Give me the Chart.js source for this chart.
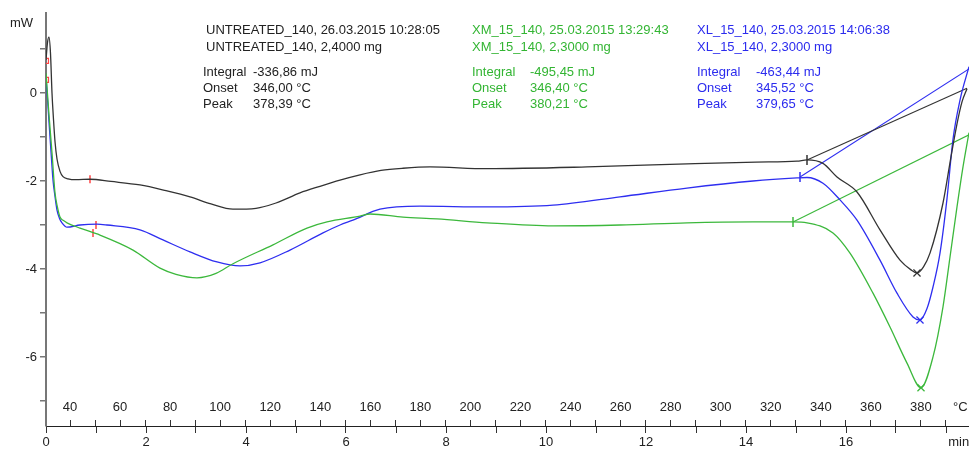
<!DOCTYPE html>
<html>
<head>
<meta charset="utf-8">
<script src="https://cdn.jsdelivr.net/npm/chart.js@4/dist/chart.umd.min.js"></script>
<style>
body{margin:0;background:#fff;}
#wrap{position:relative;width:969px;height:450px;font-family:"Liberation Sans",Arial,sans-serif;font-size:13px;}
.t{position:absolute;white-space:pre;line-height:16px;}
.k{color:#222;}
.g{color:#33b533;}
.b{color:#2b2bee;}
</style>
</head>
<body>
<div id="wrap">
<canvas id="dsc" width="969" height="450"></canvas>
<div class="t k" style="left:10px;top:15px;">mW</div>

<div class="t k" style="left:206px;top:22px;">UNTREATED_140, 26.03.2015 10:28:05</div>
<div class="t k" style="left:206px;top:39px;">UNTREATED_140, 2,4000 mg</div>
<div class="t k" style="left:203px;top:64px;">Integral</div><div class="t k" style="left:253px;top:64px;">-336,86 mJ</div>
<div class="t k" style="left:203px;top:80px;">Onset</div><div class="t k" style="left:253px;top:80px;">346,00 °C</div>
<div class="t k" style="left:203px;top:96px;">Peak</div><div class="t k" style="left:253px;top:96px;">378,39 °C</div>

<div class="t g" style="left:472px;top:22px;">XM_15_140, 25.03.2015 13:29:43</div>
<div class="t g" style="left:472px;top:39px;">XM_15_140, 2,3000 mg</div>
<div class="t g" style="left:472px;top:64px;">Integral</div><div class="t g" style="left:530px;top:64px;">-495,45 mJ</div>
<div class="t g" style="left:472px;top:80px;">Onset</div><div class="t g" style="left:530px;top:80px;">346,40 °C</div>
<div class="t g" style="left:472px;top:96px;">Peak</div><div class="t g" style="left:530px;top:96px;">380,21 °C</div>

<div class="t b" style="left:697px;top:22px;">XL_15_140, 25.03.2015 14:06:38</div>
<div class="t b" style="left:697px;top:39px;">XL_15_140, 2,3000 mg</div>
<div class="t b" style="left:697px;top:64px;">Integral</div><div class="t b" style="left:756px;top:64px;">-463,44 mJ</div>
<div class="t b" style="left:697px;top:80px;">Onset</div><div class="t b" style="left:756px;top:80px;">345,52 °C</div>
<div class="t b" style="left:697px;top:96px;">Peak</div><div class="t b" style="left:756px;top:96px;">379,65 °C</div>
</div>
<script>
// axis ranges / ticks
const timeMin = 0, timeMax = 18.46;
const tempStart = 30.4, heatRate = 19.98; // °C per min
const mwMin = -7.57, mwMax = 1.82;
const timeTicks = [0,1,2,3,4,5,6,7,8,9,10,11,12,13,14,15,16,17,18];
const tempTicks = [40,50,60,70,80,90,100,110,120,130,140,150,160,170,180,190,200,210,220,230,240,250,260,270,280,290,300,310,320,330,340,350,360,370,380,390];
const mwTicks = [1,0,-1,-2,-3,-4,-5,-6,-7];

// UNTREATED_140 (black)
const untreatedT = [0,0.03,0.06,0.09,0.12,0.15,0.18,0.22,0.28,0.34,0.44,0.6,0.88,1.3,1.88,2.4,2.88,3.3,3.74,4.2,4.6,5.08,5.48,5.88,6.28,6.7,7.14,7.68,8.82,10.82,12.82,14.2,15.02,15.22,15.54,15.82,16.22,16.68,17.08,17.3,17.42,17.55,17.68,17.94,18.1,18.22,18.32,18.42];
const untreatedMw = [0.75,1.15,1.27,0.9,0.0,-0.6,-1.1,-1.5,-1.78,-1.9,-1.95,-1.97,-1.96,-2.01,-2.09,-2.22,-2.36,-2.52,-2.64,-2.62,-2.5,-2.27,-2.12,-1.98,-1.86,-1.76,-1.71,-1.68,-1.72,-1.68,-1.61,-1.57,-1.55,-1.52,-1.6,-1.91,-2.25,-3.11,-3.8,-4.02,-4.09,-3.95,-3.64,-2.5,-1.45,-0.7,-0.2,0.1];

// XM_15_140 (green)
const xmT = [0,0.06,0.12,0.18,0.23,0.28,0.35,0.42,0.68,1.08,1.74,2.28,2.6,3.02,3.4,3.74,4.54,5.22,5.62,6.28,6.48,7.14,7.82,8.82,10.14,11.48,12.82,14.14,14.94,15.22,15.74,16.08,16.54,16.88,17.22,17.5,17.74,17.94,18.08,18.22,18.34,18.46];
const xmMw = [0.45,-0.5,-1.36,-2.27,-2.6,-2.82,-2.9,-2.95,-3.07,-3.23,-3.57,-3.98,-4.12,-4.2,-4.1,-3.88,-3.45,-3.07,-2.93,-2.8,-2.75,-2.82,-2.86,-2.95,-3.02,-3.0,-2.95,-2.93,-2.93,-2.95,-3.18,-3.64,-4.55,-5.32,-6.14,-6.7,-6.0,-4.86,-3.73,-2.59,-1.68,-0.9];

// XL_15_140 (blue)
const xlT = [0,0.04,0.08,0.11,0.14,0.18,0.22,0.27,0.32,0.42,0.68,1.02,1.22,1.88,2.34,2.88,3.42,3.88,4.28,4.88,5.54,5.88,6.14,6.68,7.48,8.82,10.14,11.48,12.82,14.14,15.02,15.22,15.54,15.88,16.22,16.68,17.02,17.34,17.48,17.62,17.74,17.88,18.02,18.14,18.28,18.46];
const xlMw = [0.36,-0.3,-1.0,-1.5,-1.98,-2.35,-2.66,-2.85,-2.95,-3.05,-3.0,-2.98,-3.0,-3.11,-3.34,-3.61,-3.84,-3.93,-3.86,-3.57,-3.18,-3.0,-2.89,-2.64,-2.57,-2.59,-2.55,-2.36,-2.16,-2.0,-1.93,-1.92,-2.05,-2.43,-2.89,-3.8,-4.55,-5.09,-5.16,-4.9,-4.41,-3.64,-2.4,-1.05,-0.16,0.6];

// integration baselines [start, end]
const untreatedBaseT = [15.22, 18.42], untreatedBaseMw = [-1.52, 0.11];
const xmBaseT = [14.94, 18.46], xmBaseMw = [-2.93, -0.95];
const xlBaseT = [15.08, 18.46], xlBaseMw = [-1.91, 0.55];

// peaks (black, green, blue)
const peakT = [17.42, 17.5, 17.48];
const peakMw = [-4.09, -6.7, -5.16];

// red range marks: start of curves, and end of the first range
const startMarkT = [0, 0];
const startMarkMw = [0.73, 0.3];
const rangeT = [0.88, 0.94, 1.0];
const rangeMw = [-1.96, -3.18, -3.0];

const BLACK = '#333333', GREEN = '#3cb83c', BLUE = '#2e2ef0', RED = '#ff4444';

function pts(xs, ys){
  return xs.map((x,i)=>({x:x, y:ys[i]}));
}

function curve(label, xs, ys, color){
  return {label:label, data:pts(xs,ys), borderColor:color, borderWidth:1.3,
    pointRadius:0, cubicInterpolationMode:'monotone', fill:false};
}
function straight(label, xs, ys, color){
  return {label:label, data:pts(xs,ys), borderColor:color, borderWidth:1.1,
    pointRadius:[5,0], pointStyle:'line', rotation:90, pointBorderColor:color, pointBorderWidth:1.5, fill:false};
}

new Chart(document.getElementById('dsc'),{
  type:'line',
  data:{
    datasets:[
      curve('UNTREATED_140', untreatedT, untreatedMw, BLACK),
      curve('XM_15_140', xmT, xmMw, GREEN),
      curve('XL_15_140', xlT, xlMw, BLUE),
      straight('base black', untreatedBaseT, untreatedBaseMw, BLACK),
      straight('base green', xmBaseT, xmBaseMw, GREEN),
      straight('base blue', xlBaseT, xlBaseMw, BLUE),
      {label:'peaks', data:pts(peakT,peakMw), showLine:false, pointStyle:'crossRot', pointRadius:5,
        pointBorderColor:[BLACK,GREEN,BLUE], pointBorderWidth:1.3},
      {label:'start', data:pts(startMarkT,startMarkMw), showLine:false, pointStyle:'rect', pointRadius:3.5,
        pointBorderColor:RED, pointBackgroundColor:'rgba(0,0,0,0)', pointBorderWidth:1.2},
      {label:'range', data:pts(rangeT,rangeMw), showLine:false, pointStyle:'line', rotation:90, pointRadius:4,
        pointBorderColor:RED, pointBorderWidth:1.5}
    ]
  },
  options:{
    responsive:false,
    animation:false,
    layout:{autoPadding:false, padding:{top:13,left:0,right:0,bottom:0}},
    plugins:{legend:{display:false}, tooltip:{enabled:false}},
    scales:{
      x:{
        type:'linear', position:'bottom', min:timeMin, max:timeMax,
        afterBuildTicks:s=>{ s.ticks = timeTicks.map(v=>({value:v})); },
        afterFit:s=>{ s.height = 24; s.paddingLeft = 0; s.paddingRight = 0; },
        ticks:{autoSkip:false, maxRotation:0, padding:2, color:'#222', font:{family:'Liberation Sans', size:13},
          callback:v=> v===18 ? '       min' : (v%2===0 ? String(v) : '')},
        grid:{drawOnChartArea:false, tickLength:7, color:'#333'},
        border:{color:'#222', width:1}
      },
      xT:{
        axis:'x', type:'linear', position:{y:mwMin},
        min:tempStart, max:tempStart + timeMax*heatRate,
        afterBuildTicks:s=>{ s.ticks = tempTicks.map(v=>({value:v})); },
        afterFit:s=>{ s.paddingLeft = 0; s.paddingRight = 0; },
        ticks:{autoSkip:false, maxRotation:0, padding:-20, color:'#222', font:{family:'Liberation Sans', size:13},
          callback:v=> v===390 ? '        °C' : (v%20===0 ? String(v) : '')},
        grid:{drawOnChartArea:false, tickLength:-6, color:'#333'},
        border:{display:false}
      },
      y:{
        type:'linear', position:'left', min:mwMin, max:mwMax,
        afterBuildTicks:s=>{ s.ticks = mwTicks.map(v=>({value:v})); },
        afterFit:s=>{ s.width = 46; s.paddingTop = 0; s.paddingBottom = 0; },
        ticks:{autoSkip:false, padding:3, color:'#222', font:{family:'Liberation Sans', size:13},
          callback:v=> (v<=0 && v%2===0) ? String(v) : ''},
        grid:{drawOnChartArea:false, tickLength:6, color:'#777', lineWidth:1.5},
        border:{color:'#777', width:2}
      }
    }
  }
});
</script>
</body>
</html>
